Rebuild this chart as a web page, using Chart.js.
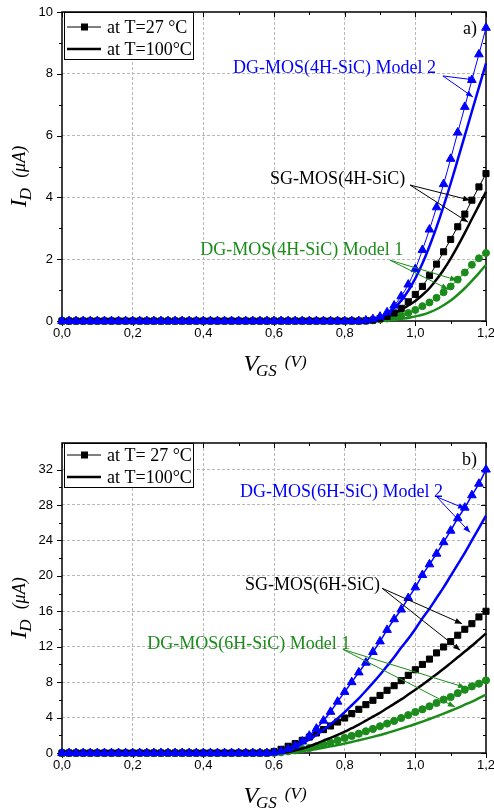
<!DOCTYPE html>
<html>
<head>
<meta charset="utf-8">
<script src="https://cdn.jsdelivr.net/npm/chart.js@4.4.0/dist/chart.umd.min.js"></script>
<style>
  html, body { margin: 0; padding: 0; background: #fff; }
  #wrap { position: relative; width: 494px; height: 810px; }
  canvas { position: absolute; left: 0; }
</style>
</head>
<body>
<div id="wrap">
  <canvas id="chartA" width="494" height="405" style="top:0"></canvas>
  <canvas id="chartB" width="494" height="405" style="top:405px"></canvas>
</div>
<script>
// gate voltage, V
const vgs = [0,0.02,0.04,0.06,0.08,0.1,0.12,0.14,0.16,0.18, 0.2,0.22,0.24,0.26,0.28,0.3,0.32,0.34,0.36,0.38,
  0.4,0.42,0.44,0.46,0.48,0.5,0.52,0.54,0.56,0.58, 0.6,0.62,0.64,0.66,0.68,0.7,0.72,0.74,0.76,0.78,
  0.8,0.82,0.84,0.86,0.88,0.9,0.92,0.94,0.96,0.98, 1,1.02,1.04,1.06,1.08,1.1,1.12,1.14,1.16,1.18, 1.2];

// panel a) 4H-SiC, drain current in uA
const dg2_4H_27 = [0,0,0,0,0,0,0,0,0,0, 0,0,0,0,0,0,0,0,0,0, 0,0,0,0,0,0,0,0,0,0, 0,0,0,0,0,0,0,0,0,0, 0,0,0,
  0.02,0.06,0.14,0.28,0.50,0.80,1.18,1.68,2.30,2.96,3.68,4.43,5.25,6.10,6.93,7.80,8.63,9.49];
const dg2_4H_100 = [0,0,0,0,0,0,0,0,0,0, 0,0,0,0,0,0,0,0,0,0, 0,0,0,0,0,0,0,0,0,0, 0,0,0,0,0,0,0,0,0,0, 0,0,0,
  0.01,0.05,0.12,0.24,0.42,0.66,0.98,1.38,1.86,2.42,3.04,3.72,4.45,5.22,6.00,6.78,7.56,8.34];
const sg_4H_27 = [0,0,0,0,0,0,0,0,0,0, 0,0,0,0,0,0,0,0,0,0, 0,0,0,0,0,0,0,0,0,0, 0,0,0,0,0,0,0,0,0,0, 0,0,0,
  0.01,0.03,0.08,0.15,0.26,0.41,0.62,0.86,1.12,1.47,1.84,2.24,2.64,3.05,3.46,3.91,4.34,4.77];
const sg_4H_100 = [0,0,0,0,0,0,0,0,0,0, 0,0,0,0,0,0,0,0,0,0, 0,0,0,0,0,0,0,0,0,0, 0,0,0,0,0,0,0,0,0,0, 0,0,0,
  0.01,0.04,0.09,0.16,0.25,0.36,0.50,0.65,0.84,1.06,1.34,1.66,2.02,2.42,2.85,3.30,3.74,4.18];
const dg1_4H_27 = [0,0,0,0,0,0,0,0,0,0, 0,0,0,0,0,0,0,0,0,0, 0,0,0,0,0,0,0,0,0,0, 0,0,0,0,0,0,0,0,0,0, 0,0,0,
  0.00,0.02,0.05,0.08,0.12,0.18,0.26,0.36,0.48,0.60,0.75,0.93,1.12,1.34,1.57,1.82,2.03,2.20];
const dg1_4H_100 = [0,0,0,0,0,0,0,0,0,0, 0,0,0,0,0,0,0,0,0,0, 0,0,0,0,0,0,0,0,0,0, 0,0,0,0,0,0,0,0,0,0, 0,0,0,
  0.00,0.00,0.01,0.02,0.04,0.07,0.10,0.15,0.20,0.28,0.38,0.51,0.66,0.85,1.06,1.30,1.55,1.82];

// panel b) 6H-SiC
const dg2_6H_27 = [0,0,0,0,0,0,0,0,0,0, 0,0,0,0,0,0,0,0,0,0, 0,0,0,0,0,0,0,0,0,0,
  0.05,0.20,0.45,0.80,1.30,1.95,2.75,3.65,4.65,5.80, 6.90,8.00,9.10,10.2,11.4,12.6,13.9,15.1,16.2,17.5,
  18.7,20.1,21.3,22.5,23.8,25.1,26.5,27.7,29.1,30.4, 32.0];
const dg2_6H_100 = [0,0,0,0,0,0,0,0,0,0, 0,0,0,0,0,0,0,0,0,0, 0,0,0,0,0,0,0,0,0,0,
  0.00,0.12,0.35,0.67,1.07,1.52,2.04,2.62,3.25,3.91, 4.62,5.39,6.18,7.03,7.91,8.84,9.82,10.8,11.9,12.9,
  14.0,15.2,16.3,17.5,18.7,20.0,21.3,22.6,24.0,25.4, 26.8];
const sg_6H_27 = [0,0,0,0,0,0,0,0,0,0, 0,0,0,0,0,0,0,0,0,0, 0,0,0,0,0,0,0,0,0,0,
  0.15,0.42,0.76,1.06,1.43,1.80,2.26,2.64,3.05,3.50, 3.95,4.45,4.93,5.46,5.95,6.50,7.08,7.60,8.17,8.77,
  9.40,10.0,10.6,11.3,11.97,12.58,13.3,13.97,14.6,15.36, 16.0];
const sg_6H_100 = [0,0,0,0,0,0,0,0,0,0, 0,0,0,0,0,0,0,0,0,0, 0,0,0,0,0,0,0,0,0,0,
  0.00,0.02,0.12,0.30,0.50,0.75,1.05,1.40,1.70,2.05, 2.40,2.80,3.20,3.65,4.10,4.55,5.05,5.55,6.05,6.60,
  7.15,7.70,8.30,8.90,9.50,10.15,10.8,11.45,12.1,12.8, 13.5];
const dg1_6H_27 = [0,0,0,0,0,0,0,0,0,0, 0,0,0,0,0,0,0,0,0,0, 0,0,0,0,0,0,0,0,0,0,
  0.02,0.08,0.19,0.30,0.45,0.57,0.76,0.98,1.17,1.43, 1.70,1.93,2.18,2.45,2.72,3.02,3.32,3.62,3.95,4.28,
  4.63,4.93,5.27,5.65,6.03,6.32,6.75,7.15,7.52,7.83, 8.20];
const dg1_6H_100 = [0,0,0,0,0,0,0,0,0,0, 0,0,0,0,0,0,0,0,0,0, 0,0,0,0,0,0,0,0,0,0,
  0.00,0.00,0.05,0.12,0.22,0.33,0.46,0.60,0.75,0.90, 1.07,1.25,1.43,1.62,1.82,2.03,2.25,2.50,2.75,3.00,
  3.27,3.55,3.84,4.14,4.45,4.77,5.10,5.45,5.80,6.20, 6.60];

const legendA = ['at T=27 °C', 'at T=100°C'];
const legendB = ['at T= 27 °C', 'at T=100°C'];

const BLUE = '#0000ff', BLACK = '#000000', GREEN = '#1b8c1b';
const SERIF = '"Liberation Serif", "Times New Roman", serif';
const SANS = '"Liberation Sans", Arial, sans-serif';

const toPoints = (vals) => vgs.map((v, i) => ({ x: v, y: vals[i] }));

function arrow(ctx, x1, y1, x2, y2) {
  ctx.beginPath();
  ctx.moveTo(x1, y1);
  ctx.lineTo(x2, y2);
  ctx.stroke();
  const ang = Math.atan2(y2 - y1, x2 - x1), L = 7, W = 2.8;
  ctx.beginPath();
  ctx.moveTo(x2, y2);
  ctx.lineTo(x2 - L * Math.cos(ang) + W * Math.sin(ang), y2 - L * Math.sin(ang) - W * Math.cos(ang));
  ctx.lineTo(x2 - L * Math.cos(ang) - W * Math.sin(ang), y2 - L * Math.sin(ang) + W * Math.cos(ang));
  ctx.closePath();
  ctx.fill();
}

function makeDecor(panel) {
  return {
    id: 'decor',
    beforeDatasetsDraw(chart) {
      const { ctx, chartArea: a, scales: { x, y } } = chart;
      ctx.save();
      ctx.strokeStyle = '#000';
      ctx.lineWidth = 1;
      // tick marks: out on left/bottom, in on right/top
      x.ticks.forEach(t => {
        const k = Math.round(t.value * 10);
        const len = k % 2 === 0 ? 5 : 3;
        const px = Math.round(x.getPixelForValue(t.value)) + 0.5;
        ctx.beginPath();
        ctx.moveTo(px, a.bottom); ctx.lineTo(px, a.bottom + len);
        ctx.moveTo(px, a.top); ctx.lineTo(px, a.top + len);
        ctx.stroke();
      });
      y.ticks.forEach(t => {
        const v = Math.round(t.value);
        if (v % panel.yStep !== 0) return;
        const len = v % panel.yMajor === 0 ? 5 : 3;
        const py = Math.round(y.getPixelForValue(t.value)) + 0.5;
        ctx.beginPath();
        ctx.moveTo(a.left - len, py); ctx.lineTo(a.left, py);
        ctx.moveTo(a.right - len, py); ctx.lineTo(a.right, py);
        ctx.stroke();
      });
      ctx.lineWidth = 1.5;
      ctx.strokeRect(a.left, a.top, a.right - a.left, a.bottom - a.top);
      ctx.restore();
    },
    afterDraw(chart) {
      const { ctx, chartArea: a, scales: { x, y } } = chart;
      ctx.save();

      // legend box
      ctx.fillStyle = '#fff';
      ctx.fillRect(a.left + 2, a.top, 129, panel.legendH);
      ctx.strokeStyle = '#000';
      ctx.lineWidth = 1;
      ctx.strokeRect(a.left + 2.5, a.top + 0.5, 129, panel.legendH);
      const r1 = a.top + panel.legendRow1, r2 = a.top + panel.legendRow2;
      ctx.beginPath(); ctx.moveTo(a.left + 5, r1); ctx.lineTo(a.left + 39, r1); ctx.stroke();
      ctx.fillStyle = '#000';
      ctx.fillRect(a.left + 19, r1 - 3.5, 7, 7);
      ctx.lineWidth = 2.5;
      ctx.beginPath(); ctx.moveTo(a.left + 5, r2); ctx.lineTo(a.left + 39, r2); ctx.stroke();
      ctx.font = '18px ' + SERIF;
      ctx.textBaseline = 'middle';
      ctx.fillText(panel.legend[0], a.left + 45, r1 + 1);
      ctx.fillText(panel.legend[1], a.left + 45, r2 + 1);

      // panel tag
      ctx.textBaseline = 'alphabetic';
      ctx.textAlign = 'right';
      ctx.fillText(panel.tag, a.right - 9, a.top + 22);
      ctx.textAlign = 'left';

      // callouts
      ctx.lineWidth = 1;
      panel.notes.forEach(n => {
        ctx.fillStyle = n.color;
        ctx.strokeStyle = n.color;
        ctx.font = '18px ' + SERIF;
        ctx.fillText(n.text, x.getPixelForValue(n.at[0]), y.getPixelForValue(n.at[1]));
        const fx = x.getPixelForValue(n.from[0]), fy = y.getPixelForValue(n.from[1]);
        n.to.forEach(p => arrow(ctx, fx, fy, x.getPixelForValue(p[0]), y.getPixelForValue(p[1])));
      });

      // y title: I_D (uA)
      ctx.fillStyle = '#000';
      ctx.save();
      ctx.translate(26, (a.top + a.bottom) / 2 + 10);
      ctx.rotate(-Math.PI / 2);
      ctx.font = 'italic 24px ' + SERIF;
      const wI = ctx.measureText('I').width;
      ctx.font = 'italic 17px ' + SERIF;
      const wD = ctx.measureText('D').width;
      ctx.font = 'italic 18px ' + SERIF;
      const wU = ctx.measureText('(μA)').width;
      let x0 = -(wI + wD + 9 + wU) / 2;
      ctx.font = 'italic 24px ' + SERIF;
      ctx.fillText('I', x0, 0);
      ctx.font = 'italic 17px ' + SERIF;
      ctx.fillText('D', x0 + wI - 1, 5);
      ctx.font = 'italic 18px ' + SERIF;
      ctx.fillText('(μA)', x0 + wI + wD + 9, -1);
      ctx.restore();

      // x title: V_GS (V)
      const by = a.bottom + 50;
      ctx.font = 'italic 24px ' + SERIF;
      const wV = ctx.measureText('V').width;
      ctx.font = 'italic 17px ' + SERIF;
      const wG = ctx.measureText('GS').width;
      ctx.font = 'italic 17px ' + SERIF;
      const wP = ctx.measureText('(V)').width;
      let xx = (a.left + a.right) / 2 + 1 - (wV + wG + 6 + wP) / 2;
      ctx.font = 'italic 24px ' + SERIF;
      ctx.fillText('V', xx, by);
      ctx.font = 'italic 17px ' + SERIF;
      ctx.fillText('GS', xx + wV - 2, by + 5);
      ctx.fillText('(V)', xx + wV + wG + 6, by - 4);

      ctx.restore();
    }
  };
}

function makeChart(id, panel) {
  const sets = [
    { vals: panel.dg2_27, color: BLUE, style: 'triangle', r: panel.triR, w: panel.markLine },
    { vals: panel.dg2_100, color: BLUE, w: 2.5 },
    { vals: panel.sg_27, color: BLACK, style: 'rect', r: panel.rectR, w: 1 },
    { vals: panel.sg_100, color: BLACK, w: 2.5 },
    { vals: panel.dg1_27, color: GREEN, style: 'circle', r: panel.circR, w: 1 },
    { vals: panel.dg1_100, color: GREEN, w: 2.5 }
  ];
  return new Chart(document.getElementById(id), {
    type: 'line',
    data: {
      datasets: sets.map(s => ({
        data: toPoints(s.vals),
        borderColor: s.color,
        backgroundColor: s.color,
        borderWidth: s.w,
        pointStyle: s.style || 'circle',
        pointRadius: s.r || 0,
        pointBorderWidth: 1,
        pointBackgroundColor: s.color,
        pointBorderColor: s.color,
        cubicInterpolationMode: 'monotone',
        clip: false
      }))
    },
    options: {
      responsive: false,
      animation: false,
      devicePixelRatio: 1,
      layout: { padding: { left: 0, right: 8, top: panel.padTop, bottom: 0 } },
      plugins: { legend: { display: false }, tooltip: { enabled: false } },
      scales: {
        x: {
          type: 'linear', min: 0, max: 1.2,
          afterFit(s) { s.height = panel.xAxisH; s.paddingLeft = 0; s.paddingRight = 0; },
          ticks: {
            stepSize: 0.1, autoSkip: false, maxRotation: 0, padding: 5, color: '#000',
            font: { family: SANS, size: 13 },
            callback: v => Math.round(v * 10) % 2 === 0 ? v.toFixed(1).replace('.', ',') : ''
          },
          grid: {
            drawTicks: false,
            color: c => {
              const k = Math.round(c.tick.value * 10);
              return (k % 2 === 0 && k > 0 && k < 12) ? '#b8b8b8' : 'rgba(0,0,0,0)';
            }
          },
          border: { display: false, dash: [3, 2] }
        },
        y: {
          type: 'linear', min: 0, max: panel.yMax,
          afterFit(s) { s.width = 62; s.paddingTop = 0; s.paddingBottom = 0; },
          ticks: {
            stepSize: panel.yStep, autoSkip: false, padding: 9, color: '#000',
            font: { family: SANS, size: 13 },
            callback: v => (v % panel.yMajor === 0 && v <= panel.yTop) ? String(v) : ''
          },
          grid: {
            drawTicks: false,
            color: c => {
              const v = c.tick.value;
              return (v % panel.yMajor === 0 && v > 0 && v < panel.yMax) ? '#b8b8b8' : 'rgba(0,0,0,0)';
            }
          },
          border: { display: false, dash: [3, 2] }
        }
      }
    },
    plugins: [makeDecor(panel)]
  });
}

makeChart('chartA', {
  dg2_27: dg2_4H_27, dg2_100: dg2_4H_100, sg_27: sg_4H_27, sg_100: sg_4H_100,
  dg1_27: dg1_4H_27, dg1_100: dg1_4H_100,
  yMax: 10, yTop: 10, yStep: 1, yMajor: 2, padTop: 12, xAxisH: 84,
  triR: 5, rectR: 4.3, circR: 3.5, markLine: 1,
  legend: legendA, legendH: 47, legendRow1: 15, legendRow2: 37, tag: 'a)',
  notes: [
    { text: 'DG-MOS(4H-SiC) Model 2', color: BLUE, at: [0.484, 8.02], from: [1.078, 7.93], to: [[1.169, 7.80], [1.163, 7.25]] },
    { text: 'SG-MOS(4H-SiC)', color: BLACK, at: [0.589, 4.43], from: [0.985, 4.40], to: [[1.155, 3.91], [1.149, 3.20]] },
    { text: 'DG-MOS(4H-SiC) Model 1', color: GREEN, at: [0.391, 2.13], from: [0.928, 1.97], to: [[1.118, 1.32], [1.093, 1.03]] }
  ]
});

makeChart('chartB', {
  dg2_27: dg2_6H_27, dg2_100: dg2_6H_100, sg_27: sg_6H_27, sg_100: sg_6H_100,
  dg1_27: dg1_6H_27, dg1_100: dg1_6H_100,
  yMax: 35, yTop: 32, yStep: 2, yMajor: 4, padTop: 38, xAxisH: 57,
  triR: 5, rectR: 4.3, circR: 3.6, markLine: 1.5,
  legend: legendB, legendH: 44, legendRow1: 12, legendRow2: 34, tag: 'b)',
  notes: [
    { text: 'DG-MOS(6H-SiC) Model 2', color: BLUE, at: [0.504, 28.9], from: [1.061, 28.9], to: [[1.141, 27.6], [1.155, 24.9]] },
    { text: 'SG-MOS(6H-SiC)', color: BLACK, at: [0.518, 18.4], from: [0.906, 18.6], to: [[1.132, 14.6], [1.127, 11.6]] },
    { text: 'DG-MOS(6H-SiC) Model 1', color: GREEN, at: [0.241, 11.7], from: [0.795, 11.7], to: [[1.141, 7.4], [1.112, 5.2]] }
  ]
});
</script>
</body>
</html>
